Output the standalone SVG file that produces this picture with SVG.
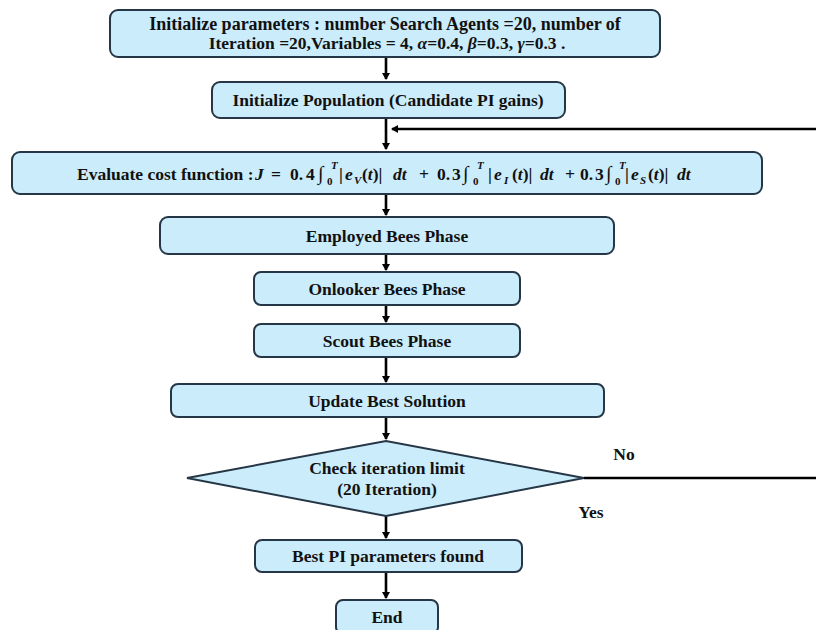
<svg xmlns="http://www.w3.org/2000/svg" width="816" height="630" viewBox="0 0 816 630">
<style>
.box{fill:#cbecfa;stroke:#253746;stroke-width:2}
.t{font-family:"Liberation Serif","Times New Roman",serif;font-weight:bold;font-size:17.5px;fill:#111;text-anchor:middle}
.h{font-size:18px}
.l{text-anchor:start}
.m{font-style:italic}
.s{font-size:11px}
.i{font-size:20px}
.c{stroke:#000;stroke-width:2.6;fill:none}
</style>
<defs>
<marker id="ah" markerWidth="8" markerHeight="8" refX="6" refY="4" orient="auto" markerUnits="userSpaceOnUse">
<path d="M0,0 L7,4 L0,8 Z" fill="#000"/>
</marker>
</defs>
<rect width="816" height="630" fill="#fff"/>
<g id="connectors">
<line class="c" x1="386" y1="57" x2="386" y2="79" marker-end="url(#ah)"/>
<line class="c" x1="386" y1="118" x2="386" y2="149" marker-end="url(#ah)"/>
<line class="c" x1="816" y1="129" x2="392" y2="129" marker-end="url(#ah)"/>
<line class="c" x1="386" y1="194" x2="386" y2="215" marker-end="url(#ah)"/>
<line class="c" x1="386" y1="254" x2="386" y2="270" marker-end="url(#ah)"/>
<line class="c" x1="386" y1="305" x2="386" y2="322" marker-end="url(#ah)"/>
<line class="c" x1="386" y1="357" x2="386" y2="382" marker-end="url(#ah)"/>
<line class="c" x1="386" y1="417" x2="386" y2="439" marker-end="url(#ah)"/>
<line class="c" x1="386" y1="516" x2="386" y2="538" marker-end="url(#ah)"/>
<line class="c" x1="386" y1="572" x2="386" y2="598" marker-end="url(#ah)"/>
<line class="c" x1="584" y1="478" x2="816" y2="478"/>
<text class="t" x="624" y="460">No</text>
<text class="t" x="591" y="518">Yes</text>
</g>
<g id="init-params">
<rect class="box" x="110" y="10" width="550" height="47" rx="8"/>
<text class="t h" x="385" y="30">Initialize parameters : number Search Agents =20, number of</text>
<text class="t" x="387" y="49">Iteration =20,Variables = 4, <tspan class="m">α</tspan>=0.4, <tspan class="m">β</tspan>=0.3, <tspan class="m">γ</tspan>=0.3 .</text>
</g>
<g id="init-pop">
<rect class="box" x="212" y="82" width="353" height="36" rx="8"/>
<text class="t" x="388" y="106">Initialize Population (Candidate PI gains)</text>
</g>
<g id="evaluate">
<rect class="box" x="12" y="152" width="750" height="42" rx="8"/>
<text class="t l" y="180"><tspan x="77">Evaluate cost function :</tspan><tspan class="m" x="255">J</tspan><tspan x="271">=</tspan><tspan x="290">0.</tspan><tspan x="306">4</tspan><tspan class="i" x="318">∫</tspan><tspan class="s" x="327" y="185">0</tspan><tspan class="m s" x="331" y="169">T</tspan><tspan x="339" y="180">|</tspan><tspan class="m" x="345">e</tspan><tspan class="m s" x="354" y="184">V</tspan><tspan x="362" y="180">(</tspan><tspan class="m">t</tspan><tspan>)|</tspan><tspan class="m" x="393">dt</tspan><tspan x="419">+</tspan><tspan x="437">0.</tspan><tspan x="452">3</tspan><tspan class="i" x="463">∫</tspan><tspan class="s" x="473" y="185">0</tspan><tspan class="m s" x="477" y="169">T</tspan><tspan x="488" y="180">|</tspan><tspan class="m" x="494">e</tspan><tspan class="m s" x="504" y="184">I</tspan><tspan x="512" y="180">(</tspan><tspan class="m">t</tspan><tspan>)|</tspan><tspan class="m" x="540">dt</tspan><tspan x="565">+</tspan><tspan x="580">0.</tspan><tspan x="595">3</tspan><tspan class="i" x="606">∫</tspan><tspan class="s" x="615" y="185">0</tspan><tspan class="m s" x="619" y="169">T</tspan><tspan x="625" y="180">|</tspan><tspan class="m" x="631">e</tspan><tspan class="m s" x="640" y="184">S</tspan><tspan x="648" y="180">(</tspan><tspan class="m">t</tspan><tspan>)|</tspan><tspan class="m" x="677">dt</tspan></text>
</g>
<g id="employed">
<rect class="box" x="160" y="217" width="454" height="37" rx="8"/>
<text class="t" x="387" y="242">Employed Bees Phase</text>
</g>
<g id="onlooker">
<rect class="box" x="254" y="272" width="266" height="33" rx="7"/>
<text class="t" x="387" y="295">Onlooker Bees Phase</text>
</g>
<g id="scout">
<rect class="box" x="254" y="324" width="266" height="33" rx="7"/>
<text class="t" x="387" y="347">Scout Bees Phase</text>
</g>
<g id="update">
<rect class="box" x="171" y="384" width="433" height="33" rx="7"/>
<text class="t" x="387" y="407">Update Best  Solution</text>
</g>
<g id="check">
<polygon class="box" points="187,478 386,441 584,478 386,516"/>
<text class="t" x="387" y="474">Check iteration limit</text>
<text class="t" x="387" y="495">(20 Iteration)</text>
</g>
<g id="best">
<rect class="box" x="255" y="540" width="267" height="32" rx="7"/>
<text class="t" x="388" y="562">Best PI parameters found</text>
</g>
<g id="end">
<rect class="box" x="336" y="600" width="102" height="34" rx="7"/>
<text class="t" x="387" y="623">End</text>
</g>
</svg>
